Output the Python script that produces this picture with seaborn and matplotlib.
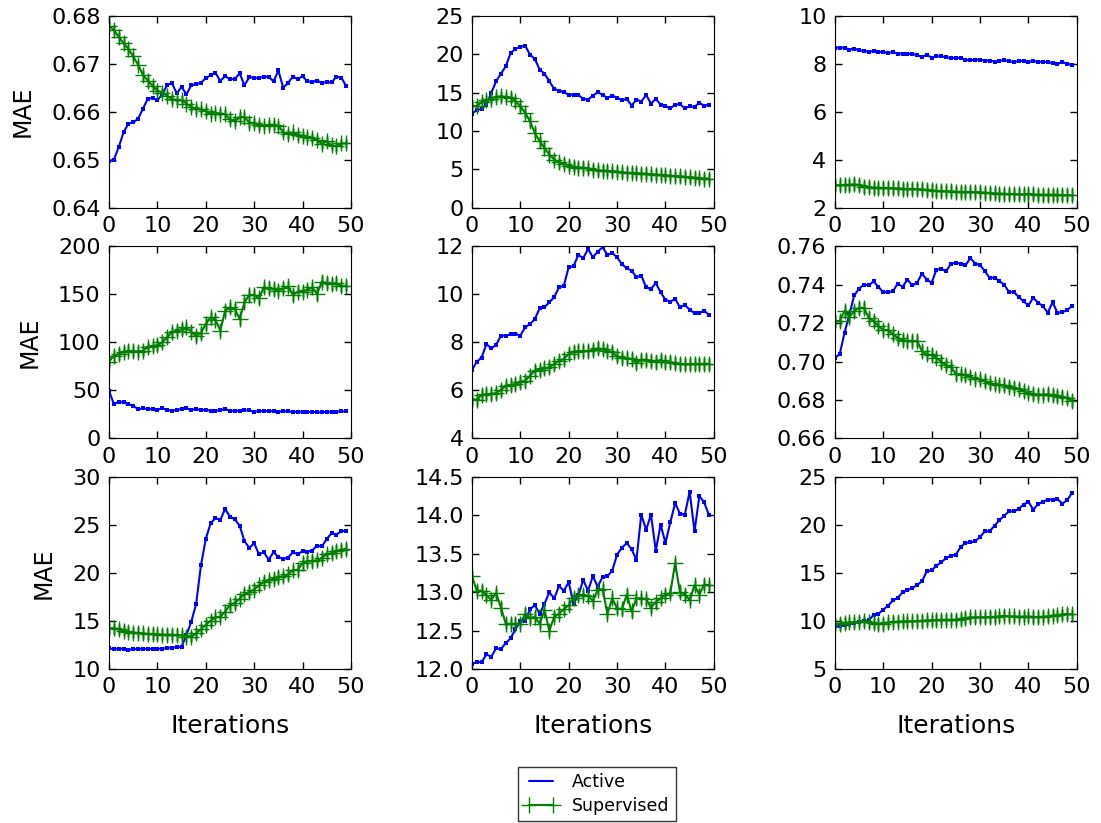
import numpy as np
import pandas as pd
import matplotlib
matplotlib.use("Agg")
import matplotlib.pyplot as plt
import seaborn as sns
from matplotlib.lines import Line2D

iterations = list(range(50))

# Active (blue) curves, one per panel, row by row
active_1 = [0.6497, 0.6500, 0.6526, 0.6557, 0.6575, 0.6578, 0.6585, 0.6606, 0.6627, 0.6629,
            0.6624, 0.6636, 0.6655, 0.6660, 0.6638, 0.6652, 0.6636, 0.6655, 0.6657, 0.6660,
            0.6670, 0.6676, 0.6681, 0.6664, 0.6674, 0.6668, 0.6668, 0.6680, 0.6655, 0.6672,
            0.6671, 0.6670, 0.6673, 0.6673, 0.6663, 0.6686, 0.6650, 0.6660, 0.6673, 0.6668,
            0.6674, 0.6663, 0.6662, 0.6665, 0.6660, 0.6662, 0.6661, 0.6673, 0.6671, 0.6654]
active_2 = [12.26, 12.70, 12.87, 13.43, 14.95, 16.46, 17.46, 18.41, 20.15, 20.67,
            20.93, 21.10, 19.93, 19.37, 17.98, 17.46, 16.46, 15.47, 15.25, 15.03,
            14.73, 14.69, 14.69, 14.17, 14.08, 14.60, 15.03, 14.69, 14.30, 14.60,
            14.34, 14.00, 14.17, 13.30, 14.08, 13.82, 14.69, 13.56, 14.17, 13.43,
            13.21, 12.95, 13.43, 13.47, 12.95, 13.21, 13.13, 13.65, 13.30, 13.39]
active_3 = [8.66, 8.67, 8.66, 8.59, 8.63, 8.56, 8.53, 8.50, 8.53, 8.50,
            8.48, 8.45, 8.48, 8.42, 8.42, 8.42, 8.39, 8.37, 8.27, 8.38,
            8.25, 8.32, 8.30, 8.27, 8.23, 8.25, 8.23, 8.17, 8.14, 8.17,
            8.17, 8.13, 8.13, 8.09, 8.13, 8.14, 8.10, 8.07, 8.10, 8.13,
            8.06, 8.12, 8.07, 8.09, 8.06, 8.03, 7.98, 8.07, 8.00, 7.95]
active_4 = [49.7, 35.8, 38.2, 37.5, 35.8, 34.0, 30.6, 31.3, 30.6, 30.6,
            29.9, 31.3, 29.9, 28.8, 29.9, 30.6, 31.3, 29.9, 30.6, 29.5,
            29.9, 28.8, 28.8, 29.5, 30.6, 28.8, 28.8, 28.8, 29.5, 29.2,
            27.8, 28.5, 28.5, 28.8, 28.1, 27.8, 28.5, 28.1, 27.8, 27.8,
            27.8, 27.4, 27.8, 27.1, 27.1, 27.8, 27.8, 27.8, 28.1, 28.1]
active_5 = [6.86, 7.19, 7.37, 7.93, 7.75, 7.89, 8.28, 8.28, 8.33, 8.36,
            8.28, 8.63, 8.76, 8.97, 9.42, 9.46, 9.67, 9.88, 10.29, 10.36,
            11.13, 11.17, 11.64, 11.50, 11.89, 11.54, 11.78, 11.96, 11.64, 11.72,
            11.54, 11.26, 11.08, 10.99, 10.71, 10.78, 10.29, 10.22, 10.47, 10.08,
            9.78, 9.69, 9.81, 9.46, 9.56, 9.36, 9.22, 9.22, 9.32, 9.14]
active_6 = [0.7020, 0.7038, 0.7150, 0.7245, 0.7344, 0.7379, 0.7401, 0.7396, 0.7417, 0.7389,
            0.7361, 0.7361, 0.7366, 0.7406, 0.7389, 0.7427, 0.7396, 0.7410, 0.7458, 0.7427,
            0.7410, 0.7479, 0.7482, 0.7470, 0.7510, 0.7513, 0.7510, 0.7500, 0.7539, 0.7510,
            0.7503, 0.7470, 0.7436, 0.7436, 0.7418, 0.7401, 0.7361, 0.7361, 0.7337, 0.7313,
            0.7292, 0.7332, 0.7306, 0.7289, 0.7254, 0.7309, 0.7254, 0.7257, 0.7268, 0.7289]
active_7 = [12.17, 12.07, 12.14, 12.10, 12.03, 12.07, 12.10, 12.10, 12.14, 12.07,
            12.10, 12.14, 12.17, 12.24, 12.28, 12.34, 13.55, 14.93, 16.76, 20.79,
            23.55, 25.17, 25.72, 25.52, 26.66, 25.86, 25.59, 24.93, 23.31, 22.62,
            23.10, 21.93, 22.17, 21.38, 22.17, 21.66, 21.48, 21.59, 22.17, 21.93,
            22.28, 22.21, 22.34, 22.86, 22.76, 23.55, 24.14, 24.00, 24.34, 24.41]
active_8 = [12.07, 12.09, 12.09, 12.19, 12.16, 12.27, 12.26, 12.34, 12.40, 12.52,
            12.62, 12.62, 12.78, 12.83, 12.72, 12.85, 13.00, 12.92, 13.08, 13.02,
            13.13, 12.85, 12.96, 13.16, 13.02, 13.21, 13.07, 13.20, 13.21, 13.28,
            13.49, 13.58, 13.64, 13.56, 13.42, 14.01, 13.81, 14.01, 13.54, 13.88,
            13.64, 13.91, 14.16, 14.02, 14.01, 14.31, 13.79, 14.25, 14.17, 14.00]
active_9 = [9.44, 9.44, 9.58, 9.69, 9.79, 9.93, 9.97, 10.07, 10.63, 10.76,
            11.18, 11.60, 12.15, 12.40, 12.99, 13.19, 13.44, 13.75, 14.13, 15.17,
            15.28, 15.76, 16.11, 16.56, 16.81, 16.91, 17.71, 18.13, 18.19, 18.30,
            18.75, 19.34, 19.34, 19.93, 20.49, 20.97, 21.42, 21.42, 21.67, 22.12,
            22.43, 21.60, 22.15, 22.43, 22.64, 22.64, 22.71, 22.22, 22.57, 23.33]

# Supervised (green) curves
supervised_1 = [0.6779, 0.6770, 0.6756, 0.6743, 0.6731, 0.6715, 0.6698, 0.6677, 0.6665, 0.6654,
                0.6644, 0.6640, 0.6633, 0.6627, 0.6624, 0.6624, 0.6617, 0.6610, 0.6606, 0.6605,
                0.6601, 0.6596, 0.6598, 0.6596, 0.6595, 0.6584, 0.6580, 0.6589, 0.6589, 0.6577,
                0.6577, 0.6573, 0.6571, 0.6573, 0.6573, 0.6571, 0.6557, 0.6554, 0.6557, 0.6552,
                0.6550, 0.6547, 0.6545, 0.6541, 0.6532, 0.6539, 0.6530, 0.6528, 0.6534, 0.6534]
supervised_2 = [13.30, 13.21, 13.73, 14.00, 14.17, 14.43, 14.51, 14.43, 14.34, 13.87,
                13.21, 12.35, 11.27, 9.75, 8.67, 7.80, 6.93, 6.28, 5.94, 5.76,
                5.50, 5.33, 5.24, 5.24, 5.16, 4.98, 4.90, 4.85, 4.81, 4.77,
                4.72, 4.64, 4.55, 4.55, 4.55, 4.46, 4.46, 4.38, 4.33, 4.29,
                4.25, 4.16, 4.12, 4.12, 4.03, 3.99, 3.94, 3.86, 3.81, 3.81]
supervised_3 = [2.94, 2.94, 2.96, 2.95, 2.99, 2.94, 2.87, 2.87, 2.84, 2.84,
                2.83, 2.83, 2.81, 2.81, 2.80, 2.77, 2.80, 2.77, 2.77, 2.74,
                2.73, 2.70, 2.69, 2.69, 2.69, 2.67, 2.67, 2.66, 2.66, 2.65,
                2.65, 2.63, 2.62, 2.60, 2.59, 2.59, 2.58, 2.58, 2.56, 2.56,
                2.58, 2.56, 2.55, 2.55, 2.55, 2.55, 2.55, 2.53, 2.53, 2.52]
supervised_4 = [79.9, 86.1, 87.8, 90.3, 91.3, 91.0, 90.3, 91.3, 94.8, 95.8,
                97.2, 100.0, 105.2, 110.4, 112.2, 113.9, 115.6, 111.1, 106.2, 109.7,
                119.1, 126.0, 123.6, 112.2, 133.0, 136.5, 134.7, 124.3, 141.7, 149.3,
                149.3, 145.8, 157.3, 156.3, 155.6, 153.8, 156.3, 158.3, 149.3, 152.8,
                152.8, 154.9, 157.3, 150.3, 163.2, 161.8, 160.8, 161.8, 158.3, 159.0]
supervised_5 = [5.64, 5.61, 5.81, 5.85, 5.85, 5.89, 6.03, 6.17, 6.22, 6.26,
                6.36, 6.40, 6.61, 6.82, 6.86, 6.92, 6.97, 7.10, 7.24, 7.31,
                7.51, 7.61, 7.64, 7.64, 7.64, 7.69, 7.75, 7.72, 7.65, 7.58,
                7.42, 7.36, 7.33, 7.31, 7.14, 7.28, 7.28, 7.24, 7.19, 7.28,
                7.17, 7.17, 7.14, 7.11, 7.08, 7.10, 7.10, 7.11, 7.11, 7.11]
supervised_6 = [0.7211, 0.7211, 0.7263, 0.7233, 0.7263, 0.7280, 0.7280, 0.7228, 0.7211, 0.7185,
                0.7164, 0.7164, 0.7142, 0.7124, 0.7112, 0.7107, 0.7107, 0.7107, 0.7055, 0.7038,
                0.7033, 0.7020, 0.6998, 0.6981, 0.6974, 0.6934, 0.6934, 0.6929, 0.6922, 0.6911,
                0.6908, 0.6899, 0.6887, 0.6882, 0.6877, 0.6877, 0.6870, 0.6865, 0.6856, 0.6847,
                0.6839, 0.6830, 0.6828, 0.6828, 0.6830, 0.6825, 0.6821, 0.6818, 0.6808, 0.6796]
supervised_7 = [14.24, 14.24, 14.14, 14.00, 13.90, 13.79, 13.79, 13.72, 13.66, 13.66,
                13.62, 13.59, 13.59, 13.59, 13.55, 13.52, 13.38, 13.38, 13.72, 14.14,
                14.59, 15.03, 15.38, 15.45, 15.97, 16.66, 16.90, 17.34, 17.79, 18.03,
                18.28, 18.72, 19.07, 19.24, 19.41, 19.59, 19.66, 19.86, 20.28, 20.34,
                21.03, 21.24, 21.24, 21.31, 21.59, 21.93, 22.07, 22.28, 22.41, 22.52]
supervised_8 = [13.21, 13.02, 13.02, 12.96, 12.90, 12.99, 12.80, 12.59, 12.59, 12.59,
                12.59, 12.72, 12.66, 12.68, 12.59, 12.77, 12.50, 12.68, 12.72, 12.78,
                12.83, 12.93, 12.96, 12.97, 12.95, 12.89, 13.03, 13.04, 12.72, 12.92,
                12.79, 12.78, 12.97, 12.75, 12.92, 12.92, 12.91, 12.80, 12.87, 12.92,
                12.97, 12.99, 13.38, 13.00, 12.97, 12.90, 13.09, 12.97, 13.10, 13.09]
supervised_9 = [9.72, 9.72, 9.79, 9.86, 9.86, 9.93, 9.97, 9.86, 9.79, 9.72,
                9.72, 9.86, 9.93, 9.93, 9.97, 9.97, 9.97, 10.00, 10.03, 10.07,
                10.07, 10.10, 10.14, 10.14, 10.14, 10.14, 10.21, 10.31, 10.38, 10.38,
                10.38, 10.38, 10.42, 10.42, 10.49, 10.56, 10.49, 10.49, 10.45, 10.45,
                10.49, 10.42, 10.42, 10.45, 10.49, 10.56, 10.59, 10.69, 10.73, 10.69]

# half-width of the light green error bars, per panel
supervised_err = [0.001, 0.7, 0.25, 6.0, 0.25, 0.003, 0.6, 0.07, 0.6]

active_all = [active_1, active_2, active_3, active_4, active_5, active_6, active_7, active_8, active_9]
supervised_all = [supervised_1, supervised_2, supervised_3, supervised_4, supervised_5,
                  supervised_6, supervised_7, supervised_8, supervised_9]

y_ranges = [(0.64, 0.68, 0.01), (0, 25, 5), (2, 10, 2),
            (0, 200, 50), (4, 12, 2), (0.66, 0.76, 0.02),
            (10, 30, 5), (12.0, 14.5, 0.5), (5, 25, 5)]

sns.set_style("white", {
    "axes.edgecolor": "black",
    "axes.linewidth": 1.0,
    "axes.labelcolor": "black",
    "text.color": "black",
    "xtick.color": "black",
    "ytick.color": "black",
    "xtick.direction": "in",
    "ytick.direction": "in",
    "xtick.top": True,
    "ytick.right": True,
    "xtick.bottom": True,
    "ytick.left": True,
})
plt.rcParams["font.family"] = ["DejaVu Sans"]
plt.rcParams["xtick.major.size"] = 5
plt.rcParams["ytick.major.size"] = 5
plt.rcParams["xtick.major.width"] = 1
plt.rcParams["ytick.major.width"] = 1
plt.rcParams["xtick.major.pad"] = 6
plt.rcParams["ytick.major.pad"] = 6

fig, axes = plt.subplots(3, 3, figsize=(11.01, 8.23), dpi=100)
fig.subplots_adjust(left=0.099, right=0.978, top=0.981, bottom=0.187, wspace=0.5, hspace=0.2)

for k, ax in enumerate(axes.flat):
    df = pd.DataFrame({"Iteration": iterations,
                       "Active": active_all[k],
                       "Supervised": supervised_all[k]})
    sns.lineplot(data=df, x="Iteration", y="Active", ax=ax, color="blue", lw=1.5,
                 marker="s", markersize=2.5, markeredgecolor="blue", markeredgewidth=0)
    ax.errorbar(df["Iteration"], df["Supervised"], yerr=supervised_err[k], fmt="none",
                ecolor="green", alpha=0.5, elinewidth=2)
    sns.lineplot(data=df, x="Iteration", y="Supervised", ax=ax, color="green", lw=1.5,
                 marker="+", markersize=11, markeredgecolor="green", markeredgewidth=1)
    lo, hi, step = y_ranges[k]
    ax.set_ylim(lo, hi)
    ax.set_yticks(np.arange(lo, hi + step / 2, step))
    ax.set_xlim(0, 50)
    ax.set_xticks(range(0, 51, 10))
    ax.tick_params(labelsize=16)
    ax.set_xlabel("")
    ax.set_ylabel("")
    if k % 3 == 0:
        ax.set_ylabel("MAE", fontsize=17, labelpad=12)
    if k >= 6:
        ax.set_xlabel("Iterations", fontsize=18, labelpad=12)

handles = [Line2D([], [], color="blue", lw=1.5),
           Line2D([], [], color="green", lw=1.5, marker="+", markersize=11, markeredgewidth=1)]
leg = fig.legend(handles, ["Active", "Supervised"], loc="lower center",
                 bbox_to_anchor=(0.542, 0.002), borderaxespad=0, fontsize=12.5, numpoints=2,
                 frameon=True, fancybox=False, edgecolor="black",
                 borderpad=0.35, labelspacing=0.35)
leg.get_frame().set_linewidth(1.0)

fig.savefig("out.png", dpi=100)
